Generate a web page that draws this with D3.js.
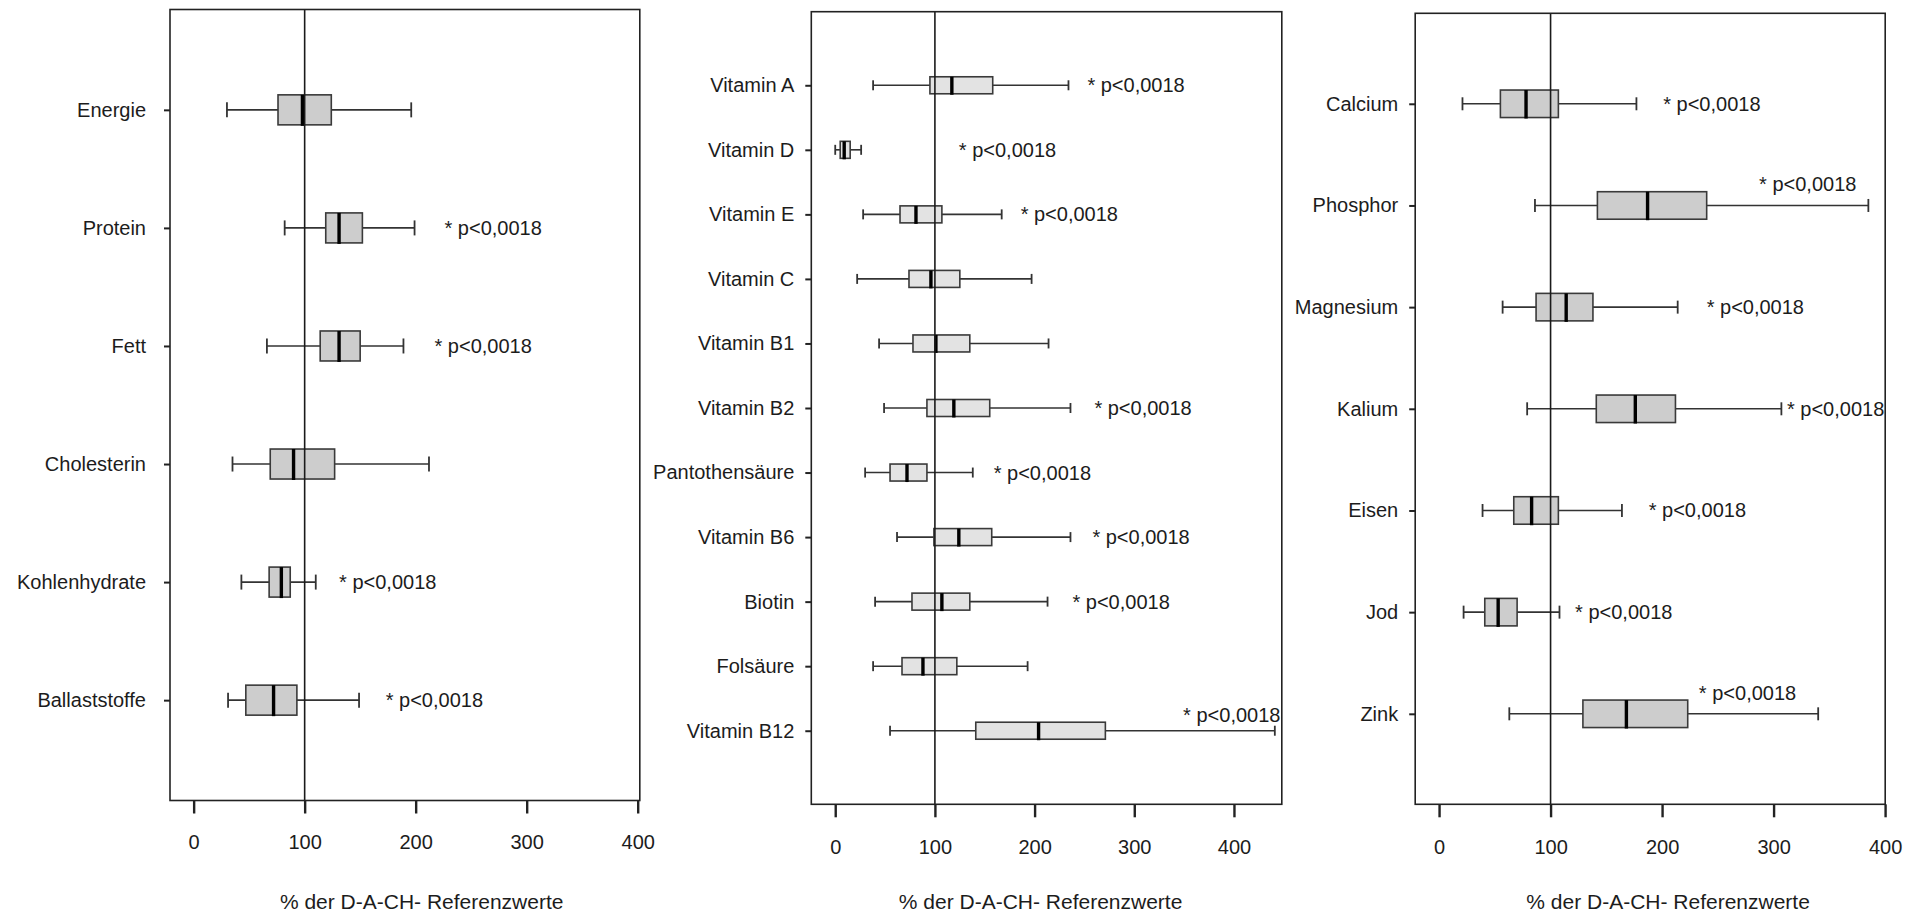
<!DOCTYPE html>
<html>
<head>
<meta charset="utf-8">
<script src="https://cdn.jsdelivr.net/npm/d3@7"></script>
<style>
  html, body { margin: 0; padding: 0; background: #fff; }
  svg { display: block; }
  text { font-family: "Liberation Sans", Arial, sans-serif; fill: #1c1c1c; }
</style>
</head>
<body>
<svg id="chart" width="1923" height="915"></svg>
<script>
// ---- Makronährstoffe ----
const macroNames  = ["Energie", "Protein", "Fett", "Cholesterin", "Kohlenhydrate", "Ballaststoffe"];
const macroMin    = [30, 82, 66, 35, 43, 31];
const macroQ1     = [76, 119, 114, 69, 68, 47];
const macroMedian = [98, 131, 131, 90, 79, 72];
const macroQ3     = [124, 152, 150, 127, 87, 93];
const macroMax    = [196, 199, 189, 212, 110, 149];
// anchor of the significance note (in % units), null = no note
const macroNoteAt    = [null, 226, 217, null, 131, 173];
const macroNoteAbove = [false, false, false, false, false, false];

// ---- Vitamine ----
const vitaminNames  = ["Vitamin A", "Vitamin D", "Vitamin E", "Vitamin C", "Vitamin B1", "Vitamin B2",
                       "Pantothensäure", "Vitamin B6", "Biotin", "Folsäure", "Vitamin B12"];
const vitaminMin    = [38, 0, 28, 22, 44, 49, 30, 62, 40, 38, 55];
const vitaminQ1     = [95, 5, 65, 74, 78, 92, 55, 99, 77, 67, 141];
const vitaminMedian = [117, 9, 81, 96, 101, 119, 72, 124, 107, 88, 204];
const vitaminQ3     = [158, 15, 107, 125, 135, 155, 92, 157, 135, 122, 271];
const vitaminMax    = [234, 26, 167, 197, 214, 236, 138, 236, 213, 193, 441];
const vitaminNoteAt    = [253, 124, 186, null, null, 260, 159, 258, 238, null, 349];
const vitaminNoteAbove = [false, false, false, false, false, false, false, false, false, false, true];

// ---- Mineralstoffe ----
const mineralNames  = ["Calcium", "Phosphor", "Magnesium", "Kalium", "Eisen", "Jod", "Zink"];
const mineralMin    = [21, 86, 57, 79, 39, 22, 63];
const mineralQ1     = [55, 142, 87, 141, 67, 41, 129];
const mineralMedian = [78, 187, 114, 176, 83, 53, 168];
const mineralQ3     = [107, 240, 138, 212, 107, 70, 223];
const mineralMax    = [177, 385, 214, 307, 164, 108, 340];
const mineralNoteAt    = [201, 287, 240, 312, 188, 122, 233];
const mineralNoteAbove = [false, true, false, false, false, false, true];

const xTicks = [0, 100, 200, 300, 400];
const referenceValue = 100;
const noteText = "* p<0,0018";
const axisTitle = "% der D-A-CH- Referenzwerte";

function rows(names, lo, q1, med, q3, hi, noteAt, noteAbove) {
  return names.map((n, i) => ({
    name: n, lo: lo[i], q1: q1[i], med: med[i], q3: q3[i], hi: hi[i],
    noteAt: noteAt[i], noteAbove: noteAbove[i]
  }));
}

const panels = [
  { data: rows(macroNames, macroMin, macroQ1, macroMedian, macroQ3, macroMax, macroNoteAt, macroNoteAbove),
    left: 170, right: 639.8, top: 9.5, bottom: 800.5, domain: [-21.3, 401.9],
    pad: 0.85, boxH: 30, capH: 15, fill: "#cdcdcd", labelGap: 24, tickLabelY: 41 },
  { data: rows(vitaminNames, vitaminMin, vitaminQ1, vitaminMedian, vitaminQ3, vitaminMax, vitaminNoteAt, vitaminNoteAbove),
    left: 811.3, right: 1281.8, top: 11.7, bottom: 804.3, domain: [-24, 448],
    pad: 1.14, boxH: 17, capH: 10, fill: "#e3e3e3", labelGap: 17, tickLabelY: 43 },
  { data: rows(mineralNames, mineralMin, mineralQ1, mineralMedian, mineralQ3, mineralMax, mineralNoteAt, mineralNoteAbove),
    left: 1415.2, right: 1885.2, top: 13.3, bottom: 804.3, domain: [-21.4, 400.1],
    pad: 0.89, boxH: 27.5, capH: 13, fill: "#cdcdcd", labelGap: 17, tickLabelY: 43 }
];

const svg = d3.select("#chart");
const ink = "#222";

panels.forEach(p => {
  const x = d3.scaleLinear().domain(p.domain).range([p.left, p.right]);
  const y = d3.scalePoint().domain(p.data.map(d => d.name)).range([p.top, p.bottom]).padding(p.pad);
  const g = svg.append("g");

  // whiskers
  const rowsG = g.selectAll("g.row").data(p.data).join("g").attr("class", "row");
  rowsG.append("line")
    .attr("x1", d => x(d.lo)).attr("x2", d => x(d.hi))
    .attr("y1", d => y(d.name)).attr("y2", d => y(d.name))
    .attr("stroke", "#333").attr("stroke-width", 1.6);
  rowsG.append("line")
    .attr("x1", d => x(d.lo)).attr("x2", d => x(d.lo))
    .attr("y1", d => y(d.name) - p.capH / 2).attr("y2", d => y(d.name) + p.capH / 2)
    .attr("stroke", "#333").attr("stroke-width", 1.8);
  rowsG.append("line")
    .attr("x1", d => x(d.hi)).attr("x2", d => x(d.hi))
    .attr("y1", d => y(d.name) - p.capH / 2).attr("y2", d => y(d.name) + p.capH / 2)
    .attr("stroke", "#333").attr("stroke-width", 1.8);

  // boxes
  rowsG.append("rect")
    .attr("x", d => x(d.q1)).attr("width", d => x(d.q3) - x(d.q1))
    .attr("y", d => y(d.name) - p.boxH / 2).attr("height", p.boxH)
    .attr("fill", p.fill).attr("stroke", "#3a3a3a").attr("stroke-width", 1.6);
  rowsG.append("line")
    .attr("x1", d => x(d.med)).attr("x2", d => x(d.med))
    .attr("y1", d => y(d.name) - p.boxH / 2).attr("y2", d => y(d.name) + p.boxH / 2 + 1)
    .attr("stroke", "#000").attr("stroke-width", 3.4);

  // significance notes
  rowsG.filter(d => d.noteAt !== null).append("text")
    .attr("x", d => x(d.noteAt))
    .attr("y", d => y(d.name) + (d.noteAbove ? -p.boxH / 2 - 7.5 : 0))
    .attr("dy", "0.35em")
    .attr("font-size", 20)
    .text(noteText);

  // reference line at 100 %
  g.append("line")
    .attr("x1", x(referenceValue)).attr("x2", x(referenceValue))
    .attr("y1", p.top).attr("y2", p.bottom)
    .attr("stroke", "#1a1a1a").attr("stroke-width", 1.6);

  // frame
  g.append("rect")
    .attr("x", p.left).attr("y", p.top)
    .attr("width", p.right - p.left).attr("height", p.bottom - p.top)
    .attr("fill", "none").attr("stroke", ink).attr("stroke-width", 1.6);

  // category axis
  const yAxis = g.append("g")
    .attr("transform", `translate(${p.left},0)`)
    .call(d3.axisLeft(y).tickSize(6).tickPadding(p.labelGap - 6));
  yAxis.select(".domain").remove();
  yAxis.selectAll(".tick line").attr("stroke", ink).attr("stroke-width", 2);
  yAxis.selectAll(".tick text").attr("font-size", 20).attr("fill", "#1c1c1c")
    .attr("font-family", "'Liberation Sans', Arial, sans-serif");

  // value axis
  const xAxis = g.append("g")
    .attr("transform", `translate(0,${p.bottom})`)
    .call(d3.axisBottom(x).tickValues(xTicks).tickFormat(d3.format("d"))
      .tickSize(13).tickPadding(p.tickLabelY - 13 - 7));
  xAxis.select(".domain").remove();
  xAxis.selectAll(".tick line").attr("stroke", ink).attr("stroke-width", 2.4);
  xAxis.selectAll(".tick text").attr("font-size", 20).attr("fill", "#1c1c1c")
    .attr("font-family", "'Liberation Sans', Arial, sans-serif");

  // axis title
  g.append("text")
    .attr("x", (x(0) + x(400)) / 2 + 6)
    .attr("y", 902).attr("dy", "0.35em")
    .attr("text-anchor", "middle")
    .attr("font-size", 21)
    .text(axisTitle);
});
</script>
</body>
</html>
